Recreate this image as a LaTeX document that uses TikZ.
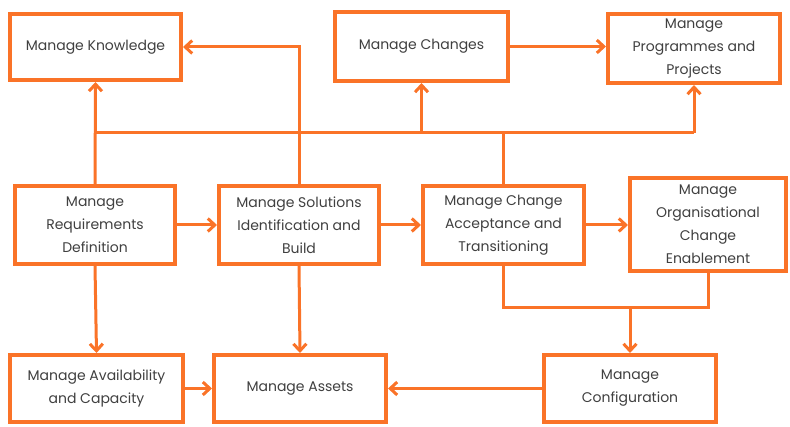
\documentclass[tikz,border=0pt]{standalone}
\usepackage{fontspec}
\setmainfont{Poppins}
\usepackage{xcolor}
\usetikzlibrary{arrows.meta}

\definecolor{boxorange}{RGB}{250,115,40}
\definecolor{boxtext}{RGB}{64,64,64}

\begin{document}
\begin{tikzpicture}[x=1pt,y=-1pt,
  procbox/.style={draw=boxorange,line width=4pt,fill=white,text=boxtext,
    align=center,inner sep=2pt,font=\fontsize{14}{23}\selectfont},
  link/.style={draw=boxorange,line width=3pt},
  flow/.style={link,-{Straight Barb[length=7pt,width=13pt,line width=3pt]}}]
\useasboundingbox (0,0) rectangle (790,427);

\node[procbox,minimum width=171pt,minimum height=66pt] (know) at (95.5,47) {Manage Knowledge};
\node[procbox,minimum width=173pt,minimum height=69pt] (chg) at (421.5,46.5) {Manage Changes};
\node[procbox,minimum width=172pt,minimum height=69pt] (prog) at (694,48.5) {Manage\\Programmes and\\Projects};

\node[procbox,minimum width=160pt,minimum height=78pt] (req) at (95,225) {Manage\\Requirements\\Definition};
\node[procbox,minimum width=160pt,minimum height=78pt] (sol) at (299,225) {Manage Solutions\\Identification and\\Build};
\node[procbox,minimum width=161pt,minimum height=78pt] (acc) at (503.5,225) {Manage Change\\Acceptance and\\Transitioning};
\node[procbox,minimum width=156pt,minimum height=93pt] (org) at (708,224.5) {Manage\\Organisational\\Change\\Enablement};

\node[procbox,minimum width=173pt,minimum height=67pt] (avail) at (96.5,388.5) {Manage Availability\\and Capacity};
\node[procbox,minimum width=172pt,minimum height=67pt] (assets) at (300,388.5) {Manage Assets};
\node[procbox,minimum width=172pt,minimum height=67pt] (conf) at (630,388.5) {Manage\\Configuration};

\coordinate (bus) at (0,133);
\coordinate (mrg) at (630,308);

\draw[link] (req.north |- bus) -- (prog.south |- bus);
\draw[flow] (req.north) -- (know.south);
\draw[flow] (prog.south |- bus) -- (prog.south);
\draw[flow] (chg.south |- bus) -- (chg.south);
\draw[link] (acc.north) -- (acc.north |- bus);
\draw[flow] (sol.north) |- (know.east);
\draw[flow] (chg.east) -- (prog.west |- chg.east);

\draw[flow] (req.east) -- (sol.west);
\draw[flow] (sol.east) -- (acc.west);
\draw[flow] (acc.east) -- (acc.east -| org.west);

\draw[flow] (req.south) -- (avail.north);
\draw[flow] (sol.south) -- (assets.north);
\draw[flow] (avail.east) -- (assets.west);
\draw[flow] (conf.west) -- (assets.east);

\draw[link] (acc.south) |- (mrg);
\draw[link] (org.south) |- (mrg);
\draw[flow] (mrg) -- (conf.north);
\end{tikzpicture}
\end{document}
